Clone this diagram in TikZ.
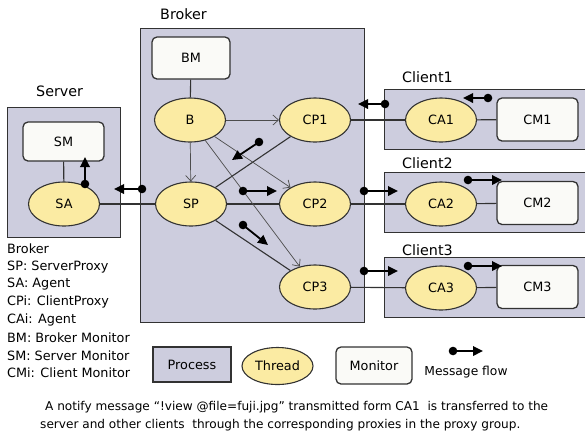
\documentclass[tikz,border=0pt]{standalone}
\usepackage{fontspec}
\setmainfont{DejaVu Sans}
\usetikzlibrary{shapes.geometric,arrows.meta}
\definecolor{procfill}{RGB}{205,205,222}
\definecolor{thfill}{RGB}{251,235,163}
\definecolor{monfill}{RGB}{250,250,247}
\definecolor{edgecol}{RGB}{50,50,50}
\tikzset{
  procbox/.style={draw=edgecol, line width=1.3bp, fill=procfill, inner sep=0pt},
  thread/.style={ellipse, draw=edgecol, line width=1.1bp, fill=thfill, minimum width=71bp, minimum height=44bp, inner sep=0pt, font=\fontsize{12.8bp}{15bp}\selectfont},
  monbox/.style={draw=edgecol, line width=1.3bp, fill=monfill, rounded corners=5bp, minimum width=80bp, minimum height=42bp, inner sep=0pt, font=\fontsize{12.8bp}{15bp}\selectfont},
  title/.style={anchor=west, inner sep=0pt, font=\fontsize{14.3bp}{16bp}\selectfont},
  legtext/.style={anchor=west, inner sep=0pt, font=\fontsize{12.8bp}{15bp}\selectfont},
  captext/.style={anchor=west, inner sep=0pt, font=\fontsize{12.1bp}{14bp}\selectfont},
  link/.style={draw=edgecol, line width=1.1bp},
  thinarrow/.style={draw=black!70, line width=0.7bp, -{Straight Barb[length=5.5bp,width=10bp]}},
  flow/.style={draw=black, line width=1.8bp, -{Triangle[length=10bp,width=9.5bp]}},
  flowdot/.style={fill=black}
}
\begin{document}
\begin{tikzpicture}[x=1bp,y=-1bp]
\useasboundingbox (0,0) rectangle (585,432);
\clip (0,0) rectangle (585,432);
% process boxes
\node[procbox, anchor=north west, minimum width=224bp, minimum height=294bp] (broker) at (140,28) {};
\node[procbox, anchor=north west, minimum width=113bp, minimum height=130bp] (server) at (7,107) {};
\node[procbox, anchor=north west, minimum width=216bp, minimum height=60bp] (client1) at (384,89) {};
\node[procbox, anchor=north west, minimum width=216bp, minimum height=60bp] (client2) at (384,172) {};
\node[procbox, anchor=north west, minimum width=216bp, minimum height=60bp] (client3) at (384,257) {};
% titles
\node[title] (tbroker) at (160,14) {Broker};
\node[title] (tserver) at (36,91) {Server};
\node[title] (tc1) at (402,77) {Client1};
\node[title] (tc2) at (402,163) {Client2};
\node[title] (tc3) at (402,250) {Client3};
% monitors
\node[monbox, minimum width=78bp] (BM) at (191,58) {BM};
\node[monbox, minimum width=81bp, minimum height=39bp] (SM) at (63.5,141.5) {SM};
\node[monbox, minimum width=81bp, minimum height=43bp] (CM1) at (537.5,119.5) {CM1};
\node[monbox, minimum width=81bp, minimum height=43bp] (CM2) at (537.5,203) {CM2};
\node[monbox, minimum width=81bp, minimum height=43bp] (CM3) at (537.5,287) {CM3};
% threads
\node[thread] (B) at (190,120) {B};
\node[thread] (SP) at (191,204) {SP};
\node[thread] (SA) at (64,204) {SA};
\node[thread] (CP1) at (315,120) {CP1};
\node[thread] (CP2) at (315,204) {CP2};
\node[thread] (CP3) at (315,287) {CP3};
\node[thread] (CA1) at (441,120) {CA1};
\node[thread] (CA2) at (441,204) {CA2};
\node[thread] (CA3) at (441,288) {CA3};
% plain links
\draw[link] (BM) -- (B);
\draw[link] (SM) -- (SA);
\draw[link] (SA) -- (SP);
\draw[link] (SP) -- (CP2);
\draw[link] (SP) -- (CP1);
\draw[link] (SP) -- (CP3);
\draw[link] (CP1) -- (CA1);
\draw[link] (CP2) -- (CA2);
\draw[link] (CP3) -- (CA3);
\draw[link] (CA1) -- (CM1);
\draw[link] (CA2) -- (CM2);
\draw[link] (CA3) -- (CM3);
% thin arrows
\draw[thinarrow] (B) -- (CP1);
\draw[thinarrow] (B) -- (SP);
\draw[thinarrow] (B) -- (CP2);
\draw[thinarrow] (B) -- (CP3);
% message flows
\coordinate (f1s) at (488,98);  \coordinate (f1e) at (463,98);
\coordinate (f2s) at (385,104); \coordinate (f2e) at (358,104);
\coordinate (f3s) at (259,142); \coordinate (f3e) at (232,160);
\coordinate (f4s) at (142,189); \coordinate (f4e) at (114,189);
\coordinate (f5s) at (85,184);  \coordinate (f5e) at (85,157);
\coordinate (f6s) at (243,191); \coordinate (f6e) at (277,191);
\coordinate (f7s) at (243,225); \coordinate (f7e) at (268,245);
\coordinate (f8s) at (364,191); \coordinate (f8e) at (398,191);
\coordinate (f9s) at (468,180); \coordinate (f9e) at (502,180);
\coordinate (f10s) at (364,271); \coordinate (f10e) at (398,271);
\coordinate (f11s) at (468,266); \coordinate (f11e) at (502,266);
\coordinate (fls) at (453,351); \coordinate (fle) at (483,351);
\foreach \i in {1,...,11,l}{
  \draw[flow] (f\i s) -- (f\i e);
  \fill[flowdot] (f\i s) circle (4.3bp);
}
% left legend
\node[legtext] (l1) at (7,249) {Broker};
\node[legtext] (l2) at (7,267) {SP: ServerProxy};
\node[legtext] (l3) at (7,284.5) {SA: Agent};
\node[legtext] (l4) at (7,302) {CPi: ClientProxy};
\node[legtext] (l5) at (7,320) {CAi: Agent};
\node[legtext] (l6) at (7,337.5) {BM: Broker Monitor};
\node[legtext] (l7) at (7,355.5) {SM: Server Monitor};
\node[legtext] (l8) at (7,373) {CMi: Client Monitor};
% bottom legend
\node[procbox, minimum width=78bp, minimum height=35bp, font=\fontsize{12.8bp}{15bp}\selectfont] (kproc) at (192,364.5) {Process};
\node[thread, minimum width=71bp, minimum height=37bp] (kthread) at (277.5,366) {Thread};
\node[monbox, minimum width=76bp, minimum height=37bp] (kmon) at (374,365.5) {Monitor};
\node[font=\fontsize{12.3bp}{15bp}\selectfont, inner sep=0pt] (kflow) at (466,372) {Message flow};
% caption
\node[captext] (cap1) at (45,407) {A notify message “!view @file=fuji.jpg” transmitted form CA1~ is transferred to the};
\node[captext] (cap2) at (40,425) {server and other clients~ through the corresponding proxies in the proxy group.};
\end{tikzpicture}
\end{document}
